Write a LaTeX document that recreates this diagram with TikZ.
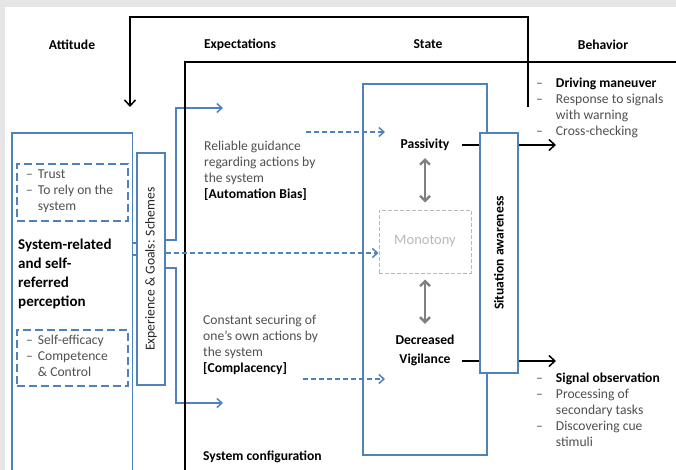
\documentclass[tikz,border=0pt]{standalone}
\usepackage{fontspec}
\setmainfont{Carlito}
\usetikzlibrary{arrows.meta,positioning,calc}
\definecolor{ablue}{RGB}{79,129,189}
\definecolor{tgray}{RGB}{80,80,80}
\definecolor{mgray}{RGB}{185,185,185}
\definecolor{agray}{RGB}{128,128,128}
\definecolor{bgray}{RGB}{230,230,230}
\tikzset{
  hdr/.style={font=\fontsize{13.6}{16}\selectfont\bfseries, inner sep=0pt},
  txt/.style={font=\fontsize{13.6}{16}\selectfont, text=tgray, align=left,
              anchor=north west, inner sep=0pt},
  bluebox/.style={rectangle, draw=ablue, line width=1.5pt, inner sep=0pt},
  dashbox/.style={bluebox, line width=1.6pt, dash pattern=on 8pt off 4pt},
  blu/.style={draw=ablue, line width=1.5pt},
  bluarr/.style={blu, -{Straight Barb[length=5pt,width=9pt]}},
  bludash/.style={bluarr, dash pattern=on 5pt off 3pt},
  blk/.style={draw=black, line width=1.5pt},
  blkarr/.style={blk, -{Straight Barb[length=6pt,width=11pt]}},
  dbl/.style={draw=agray, line width=2.4pt,
              {Straight Barb[length=5pt,width=10pt]}-{Straight Barb[length=5pt,width=10pt]}}
}

\begin{document}
\begin{tikzpicture}[
    x=1pt, y=-1pt,
    monobox/.style={rectangle, draw=mgray, dash pattern=on 4pt off 2pt,
                    line width=1pt, minimum width=92pt, minimum height=63pt,
                    font=\fontsize{14.5}{16}\selectfont, text=mgray},
    itemlist/.style={txt, anchor=west}
]
  \useasboundingbox (0,0) rectangle (676,470);
  \fill[bgray] (0,0) rectangle (676,470);
  \fill[white] (5,7) rectangle (676,470);

  % Column headers
  \node[hdr] (hAtt) at (72,45)  {Attitude};
  \node[hdr] (hExp) at (240,45) {Expectations};
  \node[hdr] (hSta) at (428,44) {State};
  \node[hdr] (hBeh) at (603,45) {Behavior};

  % Attitude (left column, open at the bottom)
  \node[minimum width=120pt, minimum height=337pt, inner sep=0pt,
        anchor=north west] (att) at (12,133) {};
  \draw[blu] (att.south west) |- (att.north east) -- (att.south east);

  \node[dashbox, minimum width=111pt, minimum height=57pt,
        anchor=north west] (trust) at (16,163) {};
  \node[itemlist] (trustT) at (26,191.5) {\begin{tabular}{@{}l@{\hspace{5pt}}l@{}}
    -- & Trust\\ -- & To rely on the\\ & system\end{tabular}};

  \node[txt, anchor=west, text=black, font=\fontsize{15}{19}\selectfont\bfseries]
    (perc) at (18,273.5) {System-related\\and self-\\referred\\perception};

  \node[dashbox, minimum width=111pt, minimum height=56pt,
        anchor=north west] (self) at (16,329) {};
  \node[itemlist] (selfT) at (26,357) {\begin{tabular}{@{}l@{\hspace{5pt}}l@{}}
    -- & Self-efficacy\\ -- & Competence\\ & \& Control\end{tabular}};

  % Experience & Goals
  \node[bluebox, minimum width=28pt, minimum height=232pt] (exp) at (151,269) {};
  \node[rotate=90, font=\fontsize{13.6}{16}\selectfont, text=black!85, inner sep=0pt]
    (expT) at (exp.center) {Experience \& Goals: Schemes};
  \draw[blu] (att.east |- 0,243) -- (exp.west |- 0,243);
  \draw[blu] (att.east |- 0,255) -- (exp.west |- 0,255);

  \coordinate (expUp) at (223,108);
  \coordinate (expDn) at (223,403);
  \draw[bluarr] (exp.east |- 0,240) -- ++(10,0) |- (expUp);
  \draw[bluarr] (exp.east |- 0,268) -- ++(10,0) |- (expDn);

  % System configuration frame
  \draw[blk] (185,470) |- (676,62);
  \node[hdr, anchor=west] (sysconf) at (203,457) {System configuration};

  % Expectations
  \node[txt] (guide) at (204,141) {Reliable guidance\\regarding actions by\\the system\\
    \textcolor{black}{\bfseries [Automation Bias]}};
  \node[txt] (secur) at (203,315) {Constant securing of\\one’s own actions by\\the system\\
    \textcolor{black}{\bfseries [Complacency]}};

  % State column
  \node[bluebox, minimum width=124pt, minimum height=371pt] (state) at (425,269.5) {};
  \node[hdr] (pass) at (425,145) {Passivity};
  \node[monobox] (mono) at (425,241.5) {Monotony};
  \node[hdr, align=center, font=\fontsize{13.6}{19}\selectfont\bfseries]
    (vig) at (425,350.5) {Decreased\\Vigilance};
  \draw[dbl, shorten <=7pt, shorten >=7pt] (pass.south) -- (mono.north);
  \draw[dbl, shorten <=6pt, shorten >=11pt] (mono.south) -- (vig.north);

  \draw[bludash] (exp.east |- 0,253) -- (mono.west |- 0,253);
  \draw[bludash] (306,132) -- (385,132);
  \draw[bludash] (303,379) -- (385,379);

  % Situation awareness
  \node[bluebox, fill=white, minimum width=38pt, minimum height=240pt] (sa) at (499,253) {};
  \node[hdr, rotate=90] (saT) at (sa.center) {Situation awareness};

  % Behavior
  \coordinate (beh1) at (556,145);
  \coordinate (beh2) at (556,361);
  \draw[blk, shorten <=12pt] (pass.east) -- (sa.west |- pass.east);
  \draw[blkarr] (sa.east |- beh1) -- (beh1);
  \draw[blk, shorten <=7pt] (vig.east |- beh2) -- (sa.west |- beh2);
  \draw[blkarr] (sa.east |- beh2) -- (beh2);

  \node[txt] (beh1T) at (536,76.3) {\begin{tabular}{@{}l@{\hspace{13pt}}l@{}}
    -- & \textcolor{black}{\bfseries Driving maneuver}\\ -- & Response to signals\\
       & with warning\\ -- & Cross-checking\end{tabular}};
  \node[txt] (beh2T) at (536,371.3) {\begin{tabular}{@{}l@{\hspace{13pt}}l@{}}
    -- & \textcolor{black}{\bfseries Signal observation}\\ -- & Processing of\\
       & secondary tasks\\ -- & Discovering cue\\ & stimuli\end{tabular}};

  % Feedback loop
  \coordinate (fbS) at (528,107);
  \coordinate (fbE) at (130,107);
  \draw[blkarr] (fbS) -- (fbS |- 0,17) -| (fbE);
\end{tikzpicture}
\end{document}
